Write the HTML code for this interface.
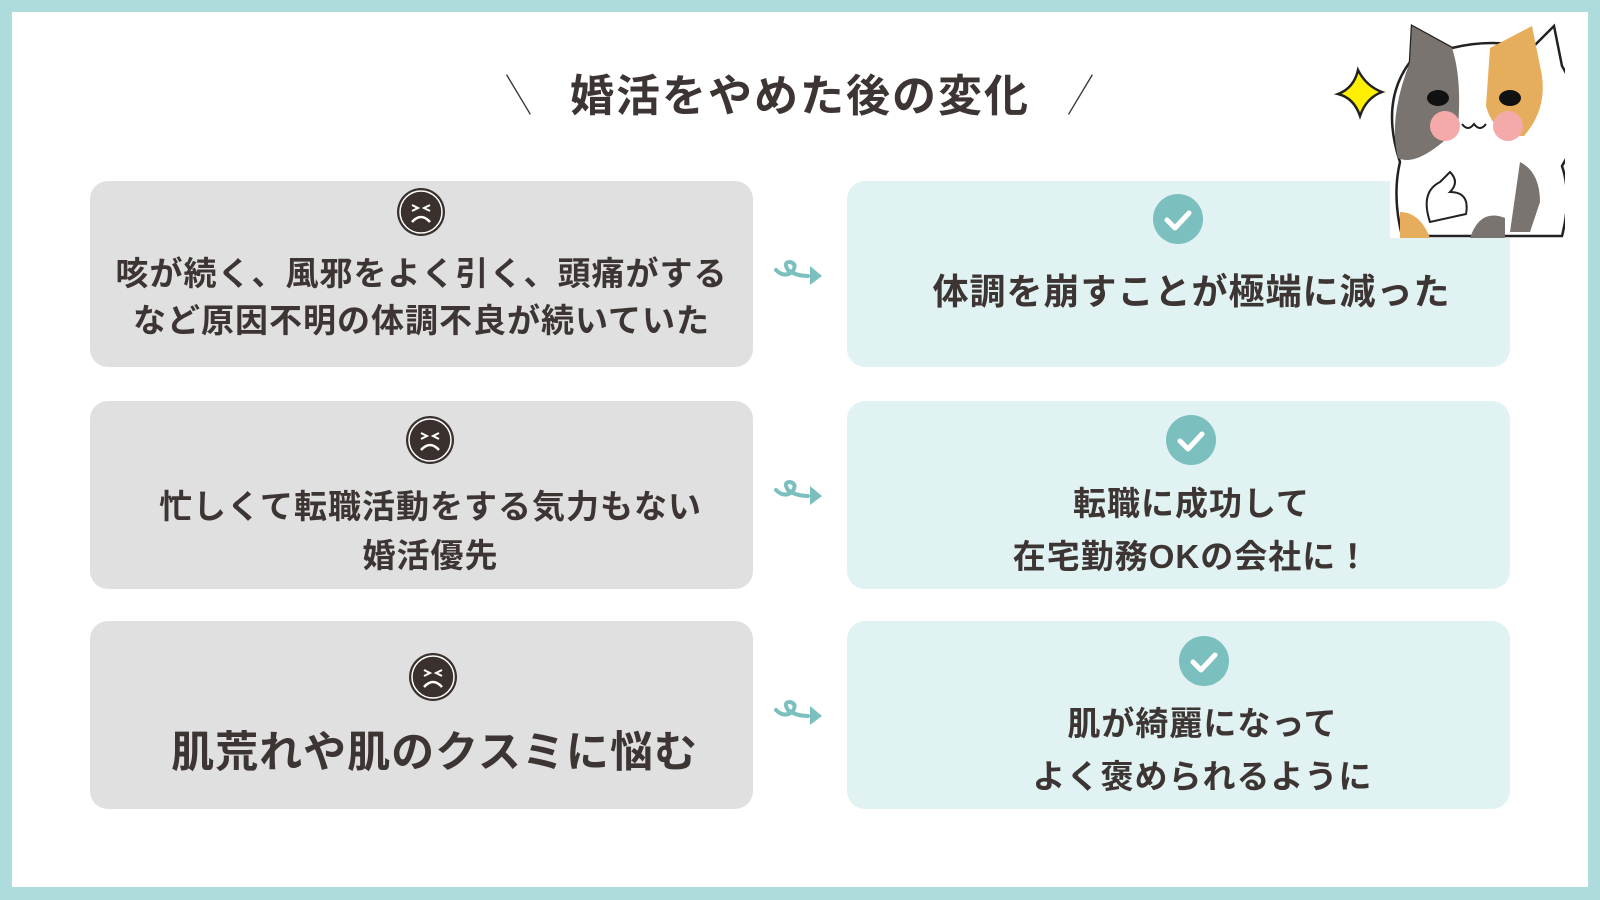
<!DOCTYPE html>
<html><head><meta charset="utf-8"><style>
*{margin:0;padding:0;box-sizing:border-box}
body{width:1600px;height:900px;background:#aedcdc;position:relative;overflow:hidden;font-family:"Liberation Sans","Noto Sans CJK JP",sans-serif;color:#3d3533;font-weight:700}
.page{position:absolute;left:12px;top:12px;width:1576px;height:875px;background:#fff}
.box{position:absolute;border-radius:18px;display:flex;flex-direction:column;align-items:center;justify-content:center;text-align:center}
.l{left:90px;width:663px;background:#e0e0e0}
.r{left:847px;width:663px;background:#e0f2f2}
.t{font-size:33px;line-height:49px;letter-spacing:1px}
.face{position:absolute;width:50px;height:50px}
.chk{position:absolute;width:50px;height:50px;border-radius:50%;background:#7bbfbf}
.arr{position:absolute;left:772px;width:60px;height:30px}
.title{position:absolute;left:0;width:1600px;top:60px;text-align:center;font-size:44px;letter-spacing:2px}
</style></head><body>
<div class="page"></div>
<div class="title"><span style="font-weight:400;margin-right:28px;display:inline-block;transform:scaleX(0.6)">＼</span>婚活をやめた後の変化<span style="font-weight:400;margin-left:28px;display:inline-block;transform:scaleX(0.6)">／</span></div>

<svg width="0" height="0" style="position:absolute"><defs>
<g id="f"><circle cx="25" cy="25" r="24" fill="#3a302d"/><circle cx="25" cy="25" r="21" fill="none" stroke="#fff" stroke-width="1.5"/><path d="M16 18l6 3-6 3M34 18l-6 3 6 3" stroke="#fff" stroke-width="2" fill="none"/><path d="M16 35q9-10 18 0" stroke="#fff" stroke-width="2.5" fill="none"/></g>
<g id="c"><path d="M14 26l8 8 14-15" stroke="#fff" stroke-width="5" fill="none" stroke-linecap="round" stroke-linejoin="round"/></g>
<g id="a"><path d="M4 14q8 8 16 2q6-8-2-10q-7 0-2 8q8 6 20 6" stroke="#7bbfbf" stroke-width="4" fill="none" stroke-linecap="round"/><path d="M38 10l12 10-12 9z" fill="#7bbfbf"/></g>
</defs></svg>

<div class="box l" style="top:181px;height:186px;padding-top:46px"><div class="t" style="line-height:47px">咳が続く、風邪をよく引く、頭痛がする<br>など原因不明の体調不良が続いていた</div></div>
<svg class="face" style="left:396px;top:187px"><use href="#f"/></svg>
<div class="box r" style="top:181px;height:186px;padding-top:34px;padding-left:26px"><div class="t" style="font-size:36px">体調を崩すことが極端に減った</div></div>
<div class="chk" style="left:1153px;top:194px"><svg width="50" height="50"><use href="#c"/></svg></div>
<svg class="arr" style="top:256px"><use href="#a"/></svg>

<div class="box l" style="top:401px;height:188px;padding-top:72px;padding-left:18px"><div class="t">忙しくて転職活動をする気力もない<br>婚活優先</div></div>
<svg class="face" style="left:405px;top:415px"><use href="#f"/></svg>
<div class="box r" style="top:401px;height:188px;padding-top:70px;padding-left:26px"><div class="t" style="line-height:53px">転職に成功して<br>在宅勤務OKの会社に！</div></div>
<div class="chk" style="left:1166px;top:415px"><svg width="50" height="50"><use href="#c"/></svg></div>
<svg class="arr" style="top:476px"><use href="#a"/></svg>

<div class="box l" style="top:621px;height:188px;padding-top:76px;padding-left:26px"><div class="t" style="font-size:43px">肌荒れや肌のクスミに悩む</div></div>
<svg class="face" style="left:408px;top:652px"><use href="#f"/></svg>
<div class="box r" style="top:621px;height:188px;padding-top:70px;padding-left:48px"><div class="t" style="line-height:53px">肌が綺麗になって<br>よく褒められるように</div></div>
<div class="chk" style="left:1179px;top:636px"><svg width="50" height="50"><use href="#c"/></svg></div>
<svg class="arr" style="top:696px"><use href="#a"/></svg>

<svg style="position:absolute;left:1330px;top:22px" width="235" height="216">
<rect x="60" y="0" width="175" height="216" fill="#fff"/>
<path d="M28 48q8 16 24 22q-16 6-22 24q-6-18-22-22q16-6 20-24z" fill="#ffef00" stroke="#222" stroke-width="2.5"/>
<path d="M70 140q-20-60 10-100l2-36 40 22q40-10 80 0l22-22 8 40q30 50 0 100q10 30 0 70h-160q-10-40 -2-74z" fill="#fff" stroke="#222" stroke-width="2.5"/>
<path d="M80 40l2-36 40 22q10 30 6 80q-40 40-60 30q-10-40 12-96z" fill="#7a7470"/>
<path d="M160 26l42-22 8 40q10 40-16 70q-30 0-38-30z" fill="#e6ad5c"/>
<path d="M190 140q20 10 20 40l-10 30h-20z" fill="#7a7470"/>
<path d="M70 190q20 0 30 26h-30z" fill="#e6ad5c"/>
<path d="M140 216q10-30 35-20v20z" fill="#7a7470"/>
<ellipse cx="108" cy="76" rx="11" ry="8" fill="#111"/><ellipse cx="180" cy="76" rx="11" ry="8" fill="#111"/>
<circle cx="115" cy="104" r="15" fill="#f5aaaa"/><circle cx="178" cy="104" r="15" fill="#f5aaaa"/>
<path d="M132 102q6 8 12 0q6 8 12 0" stroke="#222" stroke-width="2" fill="none"/>
<path d="M100 200q-10-30 10-40l10-10q10 10 0 20q20 0 16 22z" fill="#fff" stroke="#222" stroke-width="2"/>
</svg>
</body></html>
